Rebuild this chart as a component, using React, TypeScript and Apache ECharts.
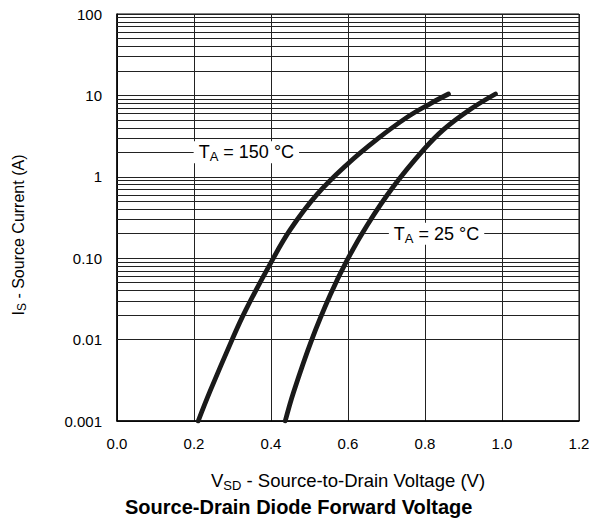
import React, { useEffect, useRef } from "react";
import * as echarts from "echarts";

// ---- data ----
const vsd150 = [0.211, 0.242, 0.299, 0.333, 0.398, 0.45, 0.519, 0.597, 0.675, 0.753, 0.814, 0.861];
const is150 = [0.001, 0.00234, 0.01, 0.0224, 0.0851, 0.224, 0.603, 1.41, 2.88, 5.37, 7.94, 10.4];

const vsd25 = [0.437, 0.459, 0.506, 0.554, 0.597, 0.649, 0.718, 0.796, 0.848, 0.918, 0.983];
const is25 = [0.001, 0.00229, 0.01, 0.0355, 0.0933, 0.251, 0.759, 2.14, 3.8, 6.76, 10.4];

const yTickLabels = ["0.001", "0.01", "0.10", "1", "10", "100"];
const decades = [0.001, 0.01, 0.1, 1, 10];
const minorSteps = [2, 3, 4, 5, 6, 7, 8, 9];

const label150 = { x: 0.336, y: 2, text: "150 °C" };
const label25 = { x: 0.83, y: 0.2, text: "25 °C" };

const FONT = "'Liberation Sans', Arial, Helvetica, sans-serif";

export default function App() {
  const ref = useRef<HTMLDivElement>(null);

  useEffect(() => {
    if (!ref.current) return;
    const chart = echarts.init(ref.current, undefined, { renderer: "svg" });

    const minorValues: number[] = [];
    decades.forEach((d) => minorSteps.forEach((m) => minorValues.push(d * m)));

    const richMain = (fs: number, lh: number) => ({
      m: { fontSize: fs, lineHeight: lh, color: "#000", fontFamily: FONT },
      s: {
        fontSize: Math.round(fs * 0.72),
        lineHeight: Math.round(fs * 0.72),
        verticalAlign: "bottom",
        color: "#000",
        fontFamily: FONT,
      },
    });

    const mkLabel = (l: { x: number; y: number; text: string }) => ({
      silent: true,
      symbol: "rect",
      symbolSize: 1,
      itemStyle: { color: "rgba(0,0,0,0)" },
      label: {
        show: true,
        position: "inside",
        formatter: "{m|T}{s|A}{m| = " + l.text + "}",
        backgroundColor: "#fff",
        padding: [0, 5, 0, 5],
        rich: richMain(18, 22),
      },
      data: [{ coord: [l.x, l.y] }],
    });

    const option = {
      animation: false,
      textStyle: { fontFamily: FONT },
      title: {
        text: "Source-Drain Diode Forward Voltage",
        left: 120,
        top: 492,
        textStyle: { fontSize: 20, fontWeight: "bold", color: "#000", fontFamily: FONT },
      },
      graphic: [
        {
          type: "text",
          x: 18,
          y: 235,
          rotation: Math.PI / 2,
          style: {
            text: "{m|I}{s|S}{m| - Source Current (A)}",
            align: "center",
            verticalAlign: "middle",
            rich: richMain(16, 20),
          },
        },
      ],
      grid: {
        left: 117,
        right: 16,
        top: 14,
        bottom: 100,
        show: true,
        borderColor: "#000",
        borderWidth: 1,
        backgroundColor: "#fff",
      },
      xAxis: {
        type: "value",
        min: 0,
        max: 1.2,
        interval: 0.2,
        axisLine: { show: true, lineStyle: { color: "#000", width: 1.5 } },
        axisTick: { show: false },
        axisLabel: {
          fontSize: 15,
          color: "#000",
          margin: 15,
          formatter: (v: number) => v.toFixed(1),
        },
        splitLine: { show: true, lineStyle: { color: "#222", width: 1 } },
        name: "{m|V}{s|SD}{m| - Source-to-Drain Voltage (V)}",
        nameLocation: "middle",
        nameGap: 48,
        nameTextStyle: { rich: richMain(18.5, 23) },
      },
      yAxis: {
        type: "log",
        logBase: 10,
        min: 0.001,
        max: 100,
        axisLine: { show: true, lineStyle: { color: "#000", width: 1.5 } },
        axisTick: { show: false },
        axisLabel: {
          fontSize: 15,
          color: "#000",
          margin: 15,
          formatter: (v: number) => yTickLabels[Math.round(Math.log10(v)) + 3] ?? "",
        },
        splitLine: { show: true, lineStyle: { color: "#222", width: 1 } },
      },
      series: [
        {
          type: "line",
          data: [],
          silent: true,
          z: 1,
          markLine: {
            silent: true,
            z: 1,
            symbol: ["none", "none"],
            label: { show: false },
            lineStyle: { color: "#222", width: 1, type: "solid" },
            emphasis: { disabled: true },
            data: minorValues.map((v) => ({ yAxis: v })),
          },
        },
        {
          type: "line",
          data: vsd150.map((x, i) => [x, is150[i]]),
          showSymbol: false,
          smooth: 0.4,
          z: 3,
          lineStyle: { color: "#1a1a1a", width: 4.8, cap: "round" },
          markPoint: mkLabel(label150),
        },
        {
          type: "line",
          data: vsd25.map((x, i) => [x, is25[i]]),
          showSymbol: false,
          smooth: 0.4,
          z: 3,
          lineStyle: { color: "#1a1a1a", width: 4.8, cap: "round" },
          markPoint: mkLabel(label25),
        },
      ],
    };

    chart.setOption(option as any);
    return () => chart.dispose();
  }, []);

  return (
    <div
      ref={ref}
      style={{ position: "fixed", left: 0, top: 0, width: 595, height: 521, background: "#fff" }}
    />
  );
}
